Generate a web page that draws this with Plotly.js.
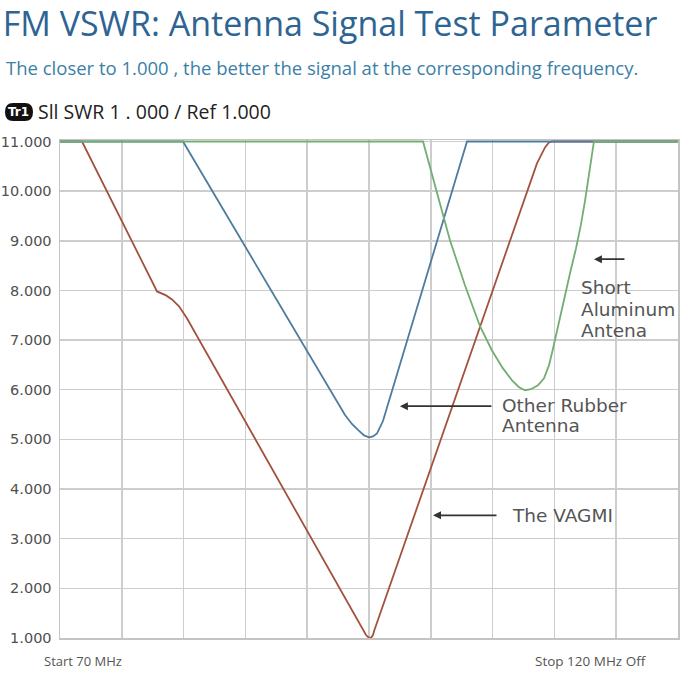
<!DOCTYPE html>
<html>
<head>
<meta charset="utf-8">
<script src="https://cdn.plot.ly/plotly-3.0.1.min.js"></script>
<style>html,body{margin:0;padding:0;background:#fff;}#chart{width:680px;height:680px;}</style>
</head>
<body>
<div id="chart"></div>
<script>
const vagmiFreq = [70.0, 71.78, 77.85, 78.17, 78.58, 79.06, 79.63, 80.27, 94.60, 94.76, 94.96, 95.16, 95.32, 95.44, 108.59, 108.92, 109.24, 109.56, 109.81, 120.0];
const vagmiSwr  = [11.0, 11.0, 7.98, 7.94, 7.90, 7.82, 7.68, 7.44, 1.14, 1.06, 1.01, 1.00, 1.06, 1.16, 10.56, 10.74, 10.88, 10.98, 11.0, 11.0];

const rubberFreq = [70.0, 79.95, 93.06, 93.62, 94.11, 94.60, 95.00, 95.32, 95.65, 95.89, 96.13, 102.93, 120.0];
const rubberSwr  = [11.0, 11.0, 5.49, 5.31, 5.19, 5.08, 5.04, 5.06, 5.12, 5.23, 5.37, 11.0, 11.0];

const aluFreq = [70.0, 99.37, 101.55, 102.77, 103.98, 104.95, 105.84, 106.57, 107.14, 107.62, 108.11, 108.67, 109.16, 109.56, 109.89, 110.29, 110.78, 111.26, 111.75, 112.15, 112.48, 112.80, 113.04, 113.20, 120.0];
const aluSwr  = [11.0, 11.0, 9.01, 8.10, 7.28, 6.79, 6.43, 6.19, 6.05, 5.99, 6.01, 6.09, 6.23, 6.49, 6.83, 7.28, 7.80, 8.34, 8.85, 9.33, 9.81, 10.38, 10.82, 11.0, 11.0];

const yTicks = [1, 2, 3, 4, 5, 6, 7, 8, 9, 10, 11];
const yTickLabels = ["1.000", "2.000", "3.000", "4.000", "5.000", "6.000", "7.000", "8.000", "9.000", "10.000", "11.000"];

const titleText = "FM VSWR: Antenna Signal Test Parameter";
const subtitleText = "The closer to 1.000 , the better the signal at the corresponding frequency.";
const traceLabel = "Sll SWR 1 . 000 / Ref 1.000";
const startLabel = "Start 70 MHz";
const stopLabel = "Stop 120 MHz Off";

const lineShape = {shape: "linear", width: 1.8};
const traces = [
  {x: vagmiFreq, y: vagmiSwr, name: "The VAGMI", mode: "lines", line: Object.assign({color: "#a3523e"}, lineShape)},
  {x: rubberFreq, y: rubberSwr, name: "Other Rubber Antenna", mode: "lines", line: Object.assign({color: "#4d7c9e"}, lineShape)},
  {x: aluFreq, y: aluSwr, name: "Short Aluminum Antena", mode: "lines", line: Object.assign({color: "#72ad72"}, lineShape)}
];

// rounded badge "Tr1"
const bx0 = -0.0890, bx1 = -0.0437, by0 = 1.0381, by1 = 1.0742, rx = 0.0130, ry = 0.0180;
const badgePath = `M ${bx0+rx},${by0} L ${bx1-rx},${by0} Q ${bx1},${by0} ${bx1},${by0+ry} L ${bx1},${by1-ry} Q ${bx1},${by1} ${bx1-rx},${by1} L ${bx0+rx},${by1} Q ${bx0},${by1} ${bx0},${by1-ry} L ${bx0},${by0+ry} Q ${bx0},${by0} ${bx0+rx},${by0} Z`;

const labelFont = {family: "DejaVu Sans", size: 18.5, color: "#555555"};
const arrowStyle = {showarrow: true, arrowhead: 2, arrowsize: 1, arrowwidth: 1.6, arrowcolor: "#333333", text: "", axref: "pixel", ayref: "pixel", ay: 0};

const layout = {
  width: 680, height: 680,
  margin: {l: 60, r: 2, t: 139.5, b: 42},
  paper_bgcolor: "#ffffff", plot_bgcolor: "#ffffff",
  showlegend: false,
  title: {text: titleText, xref: "container", yref: "container", x: 0.004, xanchor: "left", y: 0.965, yanchor: "middle",
          font: {family: "Open Sans", size: 34, color: "#2e6492"}},
  xaxis: {range: [70, 120], dtick: 5, tick0: 70, showticklabels: false, ticks: "", showgrid: true, gridcolor: "#cdcdcd", gridwidth: 1.5,
          showline: true, mirror: true, linecolor: "#c4c4c4", linewidth: 1.5, zeroline: false, fixedrange: true},
  yaxis: {range: [1, 11.03], tickvals: yTicks, ticktext: yTickLabels, ticks: "", ticklabelstandoff: 4,
          tickfont: {family: "DejaVu Sans", size: 14.5, color: "#505050"},
          showgrid: true, gridcolor: "#cdcdcd", gridwidth: 1.5, showline: true, mirror: true, linecolor: "#c4c4c4", linewidth: 1.5, zeroline: false, fixedrange: true},
  shapes: [{type: "path", xref: "paper", yref: "paper", path: badgePath, fillcolor: "#111111", line: {width: 0}}],
  annotations: [
    {xref: "paper", yref: "paper", x: -0.0905, y: 1.1454, xanchor: "left", yanchor: "middle", showarrow: false, text: subtitleText,
     font: {family: "Open Sans", size: 18.5, color: "#3b80a6"}},
    {xref: "paper", yref: "paper", x: -0.0664, y: 1.0562, xanchor: "center", yanchor: "middle", showarrow: false, text: "<b>Tr1</b>",
     font: {family: "DejaVu Sans", size: 12, color: "#ffffff"}},
    {xref: "paper", yref: "paper", x: -0.0395, y: 1.0572, xanchor: "left", yanchor: "middle", showarrow: false, text: traceLabel,
     font: {family: "Open Sans", size: 19.5, color: "#222222"}},
    {xref: "paper", yref: "paper", x: -0.0290, y: -0.0461, xanchor: "left", yanchor: "middle", showarrow: false, text: startLabel,
     font: {family: "Open Sans", size: 13, color: "#555555"}},
    {xref: "paper", yref: "paper", x: 0.7650, y: -0.0461, xanchor: "left", yanchor: "middle", showarrow: false, text: stopLabel,
     font: {family: "Open Sans", size: 13.5, color: "#555555"}},
    // arrows
    Object.assign({x: 113.2, y: 8.63, ax: 32}, arrowStyle),
    Object.assign({x: 97.5, y: 5.67, ax: 93}, arrowStyle),
    Object.assign({x: 100.18, y: 3.47, ax: 65}, arrowStyle),
    // labels
    {x: 111.95, y: 8.05, xanchor: "left", yanchor: "middle", showarrow: false, text: "Short", font: labelFont},
    {x: 111.95, y: 7.62, xanchor: "left", yanchor: "middle", showarrow: false, text: "Aluminum", font: labelFont},
    {x: 111.95, y: 7.20, xanchor: "left", yanchor: "middle", showarrow: false, text: "Antena", font: labelFont},
    {x: 105.6, y: 5.69, xanchor: "left", yanchor: "middle", showarrow: false, text: "Other Rubber", font: labelFont},
    {x: 105.6, y: 5.28, xanchor: "left", yanchor: "middle", showarrow: false, text: "Antenna", font: labelFont},
    {x: 106.4, y: 3.46, xanchor: "left", yanchor: "middle", showarrow: false, text: "The VAGMI", font: labelFont}
  ]
};

Plotly.newPlot("chart", traces, layout, {displayModeBar: false, staticPlot: true});
</script>
</body>
</html>
